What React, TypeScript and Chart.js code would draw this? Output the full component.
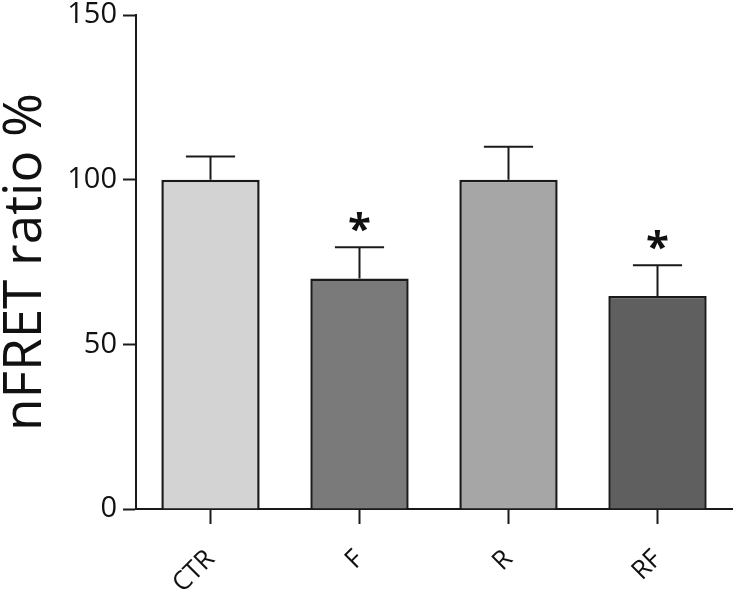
import React, { useEffect, useRef } from "react";
import { Chart, registerables } from "chart.js";

Chart.register(...registerables);

const categories = ["CTR", "F", "R", "RF"];
const means = [100, 70, 100, 64.7];
const errors = [7, 9.5, 10, 9.3];
const significant = [false, true, false, true];
const barColors = ["#d3d3d3", "#7a7a7a", "#a6a6a6", "#5f5f5f"];
const yTicks = [0, 50, 100, 150];

const FONT = "'Open Sans', 'DejaVu Sans', sans-serif";

const errorBarPlugin = {
  id: "errorBars",
  afterDatasetsDraw(chart: any) {
    const ctx = chart.ctx;
    const meta = chart.getDatasetMeta(0);
    const y = chart.scales.y;
    ctx.save();
    ctx.strokeStyle = "#1a1a1a";
    ctx.lineWidth = 2;
    meta.data.forEach((bar: any, i: number) => {
      const top = y.getPixelForValue(means[i] + errors[i]);
      const base = y.getPixelForValue(means[i]);
      const half = bar.width * 0.25;
      ctx.beginPath();
      ctx.moveTo(bar.x, base);
      ctx.lineTo(bar.x, top);
      ctx.moveTo(bar.x - half, top);
      ctx.lineTo(bar.x + half, top);
      ctx.stroke();
      if (significant[i]) {
        ctx.fillStyle = "#111";
        ctx.font = `bold 42px ${FONT}`;
        ctx.textAlign = "center";
        ctx.textBaseline = "alphabetic";
        ctx.fillText("*", bar.x, top - 4);
      }
    });
    ctx.restore();
  },
};

export default function App() {
  const ref = useRef<HTMLCanvasElement>(null);
  useEffect(() => {
    document.body.style.margin = "0";
    const chart = new Chart(ref.current!, {
      type: "bar",
      data: {
        labels: categories,
        datasets: [
          {
            data: means,
            backgroundColor: barColors,
            borderColor: "#1a1a1a",
            borderWidth: 2.5,
            borderSkipped: "bottom",
            barPercentage: 0.66,
            categoryPercentage: 1,
          },
        ],
      },
      options: {
        responsive: false,
        animation: false,
        layout: { padding: { top: 15, right: 3, left: -6, bottom: 0 } },
        plugins: { legend: { display: false }, tooltip: { enabled: false } },
        scales: {
          x: {
            offset: true,
            grid: {
              display: true,
              drawOnChartArea: false,
              offset: false,
              tickLength: 15,
              tickWidth: 2,
              tickColor: "#1a1a1a",
            },
            border: { display: true, color: "#1a1a1a", width: 2 },
            ticks: {
              color: "#111",
              font: { family: FONT, size: 26 },
              maxRotation: 45,
              minRotation: 45,
              padding: 20,
            },
            afterFit(scale: any) {
              scale.height = 83;
            },
          },
          y: {
            min: 0,
            max: 150,
            afterBuildTicks(scale: any) {
              scale.ticks = yTicks.map((v) => ({ value: v }));
            },
            grid: {
              display: true,
              drawOnChartArea: false,
              tickLength: 13,
              tickWidth: 2,
              tickColor: "#1a1a1a",
            },
            border: { display: true, color: "#1a1a1a", width: 2 },
            ticks: {
              color: "#111",
              font: { family: FONT, size: 29 },
              padding: 6,
            },
            title: {
              display: true,
              text: "nFRET ratio %",
              color: "#111",
              font: { family: FONT, size: 53, weight: "normal" },
              padding: { top: 0, bottom: 0 },
            },
            afterFit(scale: any) {
              scale.width = 142;
              scale.paddingTop = 0;
              scale.paddingBottom = 0;
            },
          },
        },
      },
      plugins: [errorBarPlugin],
    });
    return () => chart.destroy();
  }, []);
  return (
    <div style={{ width: 735, height: 592 }}>
      <canvas ref={ref} width={735} height={592} />
    </div>
  );
}
